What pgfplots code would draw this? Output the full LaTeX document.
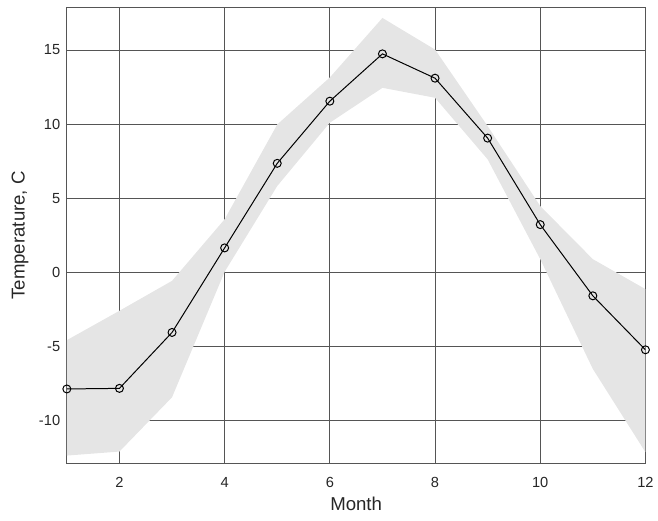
\documentclass[border=0pt]{standalone}
\usepackage{fontspec}
\setmainfont{Liberation Sans}
\usepackage{pgfplots}
\pgfplotsset{compat=1.18}
\usepgfplotslibrary{fillbetween}

\definecolor{bandgray}{HTML}{E5E5E5}
\definecolor{gridgray}{HTML}{555555}

\begin{document}
\begin{tikzpicture}
\begin{axis}[
  name=ax,
  scale only axis,
  width=435pt, height=343.5pt,
  xmin=1, xmax=12, ymin=-12.9, ymax=17.9,
  xtick={2,4,6,8,10,12},
  ytick={-10,-5,0,5,10,15},
  /pgf/number format/assume math mode=true,
  tick label style={font=\fontsize{11}{13}\selectfont, text=black!85},
  xticklabel style={yshift=-6.5pt},
  yticklabel style={xshift=-1.5pt},
  grid=major,
  major grid style={gridgray, line width=0.6pt},
  axis line style={gridgray, line width=0.6pt},
  tick style={gridgray, line width=0.6pt},
  tick align=inside,
  major tick length=0pt,
  xlabel={Month},
  ylabel={Temperature, C},
  every axis x label/.style={at={(axis description cs:0.5,-0.0873)}, anchor=center,
    font=\fontsize{14}{16}\selectfont, text=black!85},
  every axis y label/.style={at={(axis description cs:-0.081,0.5)}, anchor=center, rotate=90,
    font=\fontsize{14}{16}\selectfont, text=black!85},
]
% spread of monthly temperatures
\addplot[draw=none, name path=upper] coordinates {
  (1,-4.56) (2,-2.58) (3,-0.56) (4,3.59) (5,9.98) (6,13.15)
  (7,17.16) (8,15.03) (9,9.87) (10,4.48) (11,0.9) (12,-1.12)
};
\addplot[draw=none, name path=lower] coordinates {
  (1,-12.34) (2,-12.07) (3,-8.41) (4,0.05) (5,5.83) (6,10.1)
  (7,12.45) (8,11.78) (9,7.63) (10,0.9) (11,-6.5) (12,-12.11)
};
\addplot[bandgray, draw=none] fill between[of=upper and lower];
% monthly mean
\addplot[black, line width=0.75pt, mark=o, mark size=3pt,
         mark options={line width=0.75pt}] coordinates {
  (1,-7.85) (2,-7.81) (3,-4.04) (4,1.66) (5,7.36) (6,11.55)
  (7,14.74) (8,13.1) (9,9.06) (10,3.23) (11,-1.57) (12,-5.21)
};
\end{axis}
\path[use as bounding box]
  ([shift={(-50.25pt,-42.75pt)}]ax.south west)
  rectangle ([shift={(8.25pt,5.25pt)}]ax.north east);
\end{tikzpicture}
\end{document}
